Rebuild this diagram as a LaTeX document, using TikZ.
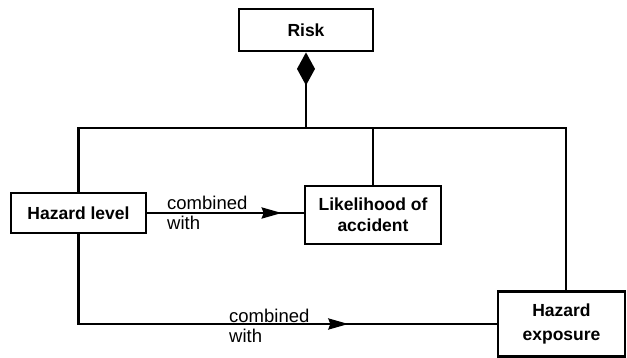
\documentclass[tikz,border=0pt]{standalone}
\usepackage{fontspec}
\setmainfont{Liberation Sans}
\usetikzlibrary{arrows.meta,decorations.markings}
\begin{document}
\begin{tikzpicture}[x=1pt,y=-1pt,
  box/.style={draw, line width=2.8pt, fill=white, inner sep=0pt, align=center,
    font=\bfseries\fontsize{17.5}{21}\selectfont},
  wire/.style={line width=2.7pt},
  lbl/.style={inner sep=0pt, anchor=west, align=left,
    font=\fontsize{18.5}{20.5}\selectfont},
  midarrow/.style={postaction={decorate}, decoration={markings,
    mark=at position #1 with {\arrow{Stealth[length=20pt,width=11pt,inset=2pt]}}}}
]
\useasboundingbox (0,0) rectangle (627,358);

% class boxes
\node[box, minimum width=134pt, minimum height=42pt] (risk) at (306,30) {Risk};
\node[box, minimum width=135pt, minimum height=40pt] (hl) at (78.5,213) {Hazard level};
\node[box, minimum width=136pt, minimum height=58pt] (lk) at (373,215) {Likelihood of\\accident};
\node[box, minimum width=127pt, minimum height=65pt,
      font=\bfseries\fontsize{17.5}{24}\selectfont] (he) at (561.5,324) {Hazard\\exposure};

% junction of the aggregation bus
\coordinate (bus) at (306,128);

% aggregation: diamond at Risk, bus to the three parts
\draw[wire, {Diamond[length=33pt,width=18pt]}-] (risk.south) -- (bus);
\draw[wire] (hl.north) |- (bus) -| ([xshift=4.5pt]he.north);
\draw[wire] (lk.north) -- (lk.north |- bus);

% "combined with" associations
\draw[wire, midarrow=0.86] (hl.east) -- (hl.east -| lk.west);
\draw[wire, midarrow=0.708] (hl.south) |- (he.west);

\node[lbl] (c1) at (167,213) {combined\\with};
\node[lbl] (c2) at (229,326) {combined\\with};
\end{tikzpicture}
\end{document}
